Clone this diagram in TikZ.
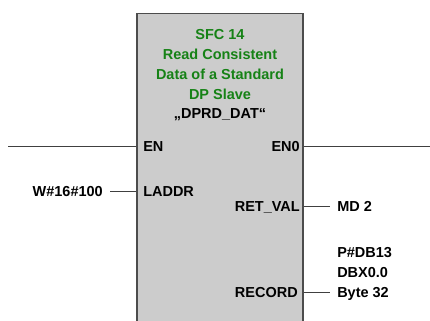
\documentclass[tikz,border=0pt]{standalone}
\usepackage{fontspec}
\setmainfont{Liberation Sans}
\usetikzlibrary{positioning}
\definecolor{sfcgreen}{RGB}{22,130,22}
\definecolor{fbgray}{RGB}{204,204,204}
\tikzstyle{fbox} = [rectangle, draw=black!70, fill=fbgray, line width=0.8pt, minimum width=4.15cm, minimum height=8.5cm, anchor=north]
\tikzstyle{pin} = [inner sep=0pt, text height=7.3pt, text depth=0pt, font=\bfseries\fontsize{10.3}{14.2}\selectfont]
\tikzstyle{val} = [pin, inner xsep=0.175cm]
\tikzstyle{ttl} = [inner sep=0pt, align=center, font=\bfseries\fontsize{10.3}{14.2}\selectfont]
\tikzstyle{line} = [draw=black!75, line width=0.7pt]

\begin{document}
\begin{tikzpicture}
			\clip (0,0) rectangle (10.75,8);
			\node [fbox] (fb) at (5.5, 7.675) {};
			\node [ttl, text=sfcgreen, anchor=base] (title) at (5.5, 5.025) {SFC 14\\Read Consistent\\Data of a Standard\\DP Slave\\\textcolor{black}{„DPRD\_DAT“}};
			
			\node [pin, anchor=west] (en) at (3.575, 4.35) {EN};
			\node [pin, anchor=east] (eno) at (7.5, 4.35) {EN0};
			\node [pin, anchor=west] (laddr) at (3.575, 3.225) {LADDR};
			\node [pin, anchor=east] (retval) at (7.5, 2.85) {RET\_VAL};
			\node [pin, anchor=east] (record) at (7.45, 0.7) {RECORD};
			
			\node [val, anchor=east] (laddrin) at (2.75, 3.225) {W\#16\#100};
			\node [val, anchor=west] (md) at (8.25, 2.85) {MD 2};
			\node [ttl, inner xsep=0.175cm, align=left, anchor=base west] (rec) at (8.25, 0.575) {P\#DB13\\DBX0.0\\Byte 32};
			
			\coordinate (enL) at (0.2, 4.35);
			\coordinate (enoR) at (10.75, 4.35);
			
			\path [line] (enL) -- (enL -| fb.west);
			\path [line] (fb.east |- eno) -- (enoR);
			\path [line] (laddrin) -- (laddrin -| fb.west);
			\path [line] (fb.east |- retval) -- (md);
			\path [line] (fb.east |- record) -- (record -| rec.west);
		\end{tikzpicture}
\end{document}
